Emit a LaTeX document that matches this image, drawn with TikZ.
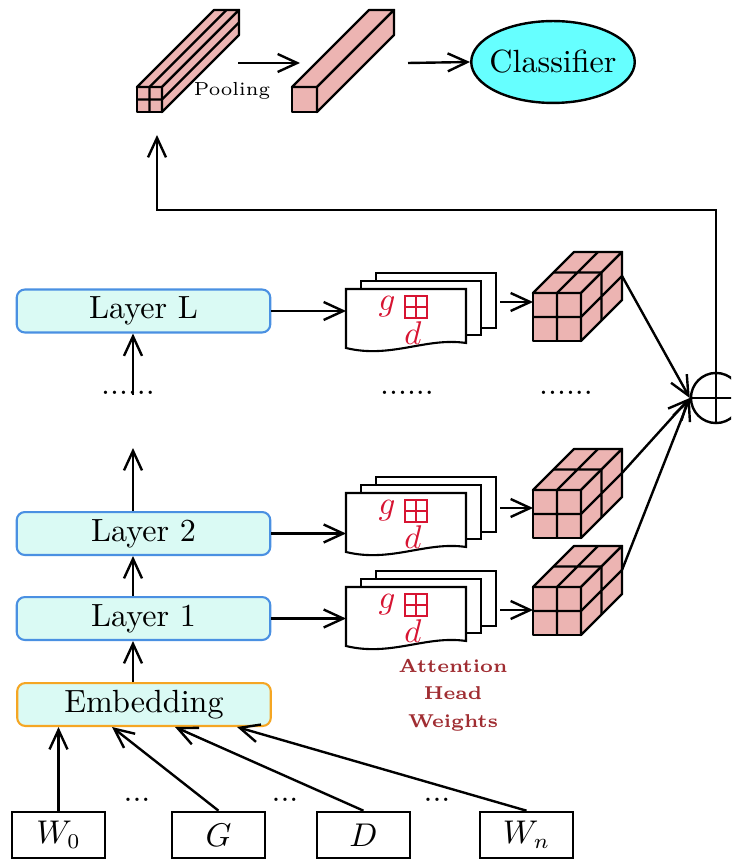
\documentclass[tikz,border=0pt]{standalone}
\usetikzlibrary{arrows.meta,shapes.geometric}

\definecolor{cubepink}{RGB}{236,180,178}
\definecolor{layerfill}{RGB}{218,250,244}
\definecolor{layerblue}{RGB}{74,144,226}
\definecolor{embedorange}{RGB}{245,166,35}
\definecolor{headred}{RGB}{215,20,50}
\definecolor{notebrown}{RGB}{160,45,50}
\definecolor{clsfill}{RGB}{102,255,255}

\tikzset{
  conn/.style={line width=0.8pt, -{Straight Barb[length=6.5pt,width=6pt]}},
  layerbox/.style={draw=layerblue, line width=0.7pt, fill=layerfill, rounded corners=2.7pt,
    minimum width=84.5pt, minimum height=14.3pt, inner sep=0pt},
  embbox/.style={layerbox, draw=embedorange},
  tokbox/.style={draw, line width=0.7pt, minimum width=31pt, minimum height=15.5pt, inner sep=0pt},
  facet/.style={draw, line width=0.8pt, fill=cubepink, line join=round},
  sheet/.style={draw, line width=0.7pt, fill=white},
}

% 2x2x2 block of cells; #1,#2 = front top-left corner
\newcommand\gridcube[2]{%
  \begin{scope}[shift={(#1,#2)}]
    \path[facet] (0,0) -- (48,0) -- (48,48) -- (0,48) -- cycle;
    \path[facet] (0,0) -- (41,-41) -- (89,-41) -- (48,0) -- cycle;
    \path[facet] (48,0) -- (89,-41) -- (89,7) -- (48,48) -- cycle;
    \draw[line width=0.8pt] (24,0) -- (24,48) (0,24) -- (48,24)
      (24,0) -- (65,-41) (20.5,-20.5) -- (68.5,-20.5)
      (48,24) -- (89,-17) (68.5,-20.5) -- (68.5,27.5);
  \end{scope}}

% long square bar; #1,#2 = front top-left corner, #3 = 1 for a 2x2 split
\newcommand\poolbar[3]{%
  \begin{scope}[shift={(#1,#2)}]
    \path[facet] (0,0) -- (25,0) -- (25,25) -- (0,25) -- cycle;
    \path[facet] (0,0) -- (77,-77) -- (102,-77) -- (25,0) -- cycle;
    \path[facet] (25,0) -- (102,-77) -- (102,-52) -- (25,25) -- cycle;
    \ifnum#3=1
      \draw[line width=0.8pt] (12.5,0) -- (12.5,25) (0,12.5) -- (25,12.5)
        (12.5,0) -- (89.5,-77) (25,12.5) -- (102,-64.5);
    \fi
  \end{scope}}

% stack of three attention-head sheets; #1,#2 = front sheet top-left corner
\newcommand\headstack[2]{%
  \begin{scope}[shift={(#1,#2)}]
    \path[sheet] (30,-16) rectangle (150,39);
    \path[sheet] (15,-8) rectangle (135,46);
    \path[sheet] (0,0) -- (120,0) -- (120,54)
      .. controls (80,48) and (45,70) .. (0,59) -- cycle;
    \node[text=headred] at (41,18) {$g$};
    \draw[headred, line width=0.7pt] (59,7) rectangle (81,29)
      (70,7) -- (70,29) (59,18) -- (81,18);
    \node[text=headred] at (67,44) {$d$};
  \end{scope}}

\begin{document}
\begin{tikzpicture}[x=0.3333pt, y=-0.3333pt, font=\fontsize{10.7pt}{13pt}\selectfont]
  \clip (0,0) rectangle (731,859);

  % ---- pooling and classifier ----
  \poolbar{137}{87}{1}
  \poolbar{292}{87}{0}
  \node[font=\fontsize{6.3pt}{7pt}\selectfont] (pool) at (232,91) {Pooling};
  \node[ellipse, draw, line width=0.8pt, fill=clsfill, minimum width=54.5pt,
    minimum height=27.3pt, inner xsep=-2.5pt, inner ysep=0pt] (cls) at (553,62) {Classifier};
  \coordinate (b1out) at (238,63);
  \coordinate (b2in) at (300,63);
  \coordinate (b2out) at (408,63);
  \draw[conn] (b1out) -- (b2in);
  \draw[conn] (b2out) -- (cls.west);

  % ---- sum node and feedback to pooling ----
  \node[circle, draw, line width=0.8pt, minimum size=16.7pt, inner sep=0pt] (op) at (716,398) {};
  \draw[line width=0.8pt] (op.north) -- (op.south) (op.west) -- (op.east);
  \coordinate (turn) at (157,210);
  \coordinate (pooltgt) at (157,135);
  \draw[conn] (op.north) |- (turn) -- (pooltgt);

  % ---- encoder layers ----
  \node[layerbox] (lL) at (143.5,311) {Layer L};
  \node[layerbox] (l2) at (143.5,533.5) {Layer 2};
  \node[layerbox] (l1) at (143.5,618.5) {Layer 1};
  \node[embbox] (emb) at (144,704.5) {Embedding};
  \coordinate (spine) at (133,0);
  \coordinate (up2) at (133,448);
  \node (dL) at (128,393) {......};
  \draw[conn] (emb.north -| spine) -- (l1.south -| spine);
  \draw[conn] (l1.north -| spine) -- (l2.south -| spine);
  \draw[conn] (l2.north -| spine) -- (up2);
  \draw[conn] (dL.base -| spine) -- (lL.south -| spine);

  % ---- attention heads ----
  \headstack{346}{289}
  \headstack{346}{493}
  \headstack{346}{587}
  \coordinate (hL) at (346,289);
  \coordinate (h2) at (346,493);
  \coordinate (h1) at (346,587);
  \draw[conn] (lL.east) -- (lL.east -| hL);
  \draw[conn] (l2.east) -- (l2.east -| h2);
  \draw[conn] (l1.east) -- (l1.east -| h1);
  \node (dM) at (407,393) {......};
  \node (dR) at (566,393) {......};
  \node[font=\fontsize{6.2pt}{9.2pt}\selectfont\bfseries, text=notebrown, align=center] (note)
    at (453,695) {Attention\\ Head\\ Weights};

  % ---- per-layer head blocks ----
  \gridcube{533}{293}
  \gridcube{533}{490}
  \gridcube{533}{587}
  \coordinate (cL) at (533,293);
  \coordinate (c2) at (533,490);
  \coordinate (c1) at (533,587);
  \coordinate (sL) at (500,302);
  \coordinate (s2) at (500,508);
  \coordinate (s1) at (500,610);
  \draw[conn] (sL) -- (sL -| cL);
  \draw[conn] (s2) -- (s2 -| c2);
  \draw[conn] (s1) -- (s1 -| c1);
  \coordinate (cLe) at (622,276);
  \coordinate (c2e) at (622,473);
  \coordinate (c1e) at (622,570);
  \draw[conn] (cLe) -- (op.west);
  \draw[conn] (c2e) -- (op.west);
  \draw[conn] (c1e) -- (op.west);

  % ---- input tokens ----
  \node[tokbox] (w0) at (58.5,835) {$W_0$};
  \node[tokbox] (tg) at (218.5,835) {$G$};
  \node[tokbox] (td) at (363.5,835) {$D$};
  \node[tokbox] (wn) at (526.5,835) {$W_n$};
  \node at (137,800) {...};
  \node at (285,800) {...};
  \node at (437,800) {...};
  \coordinate (e2) at (112,727);
  \coordinate (e3) at (175,727);
  \coordinate (e4) at (237,727);
  \draw[conn] (w0.north) -- (w0.north |- emb.south);
  \draw[conn] (tg.north) -- (e2);
  \draw[conn] (td.north) -- (e3);
  \draw[conn] (wn.north) -- (e4);
\end{tikzpicture}
\end{document}
